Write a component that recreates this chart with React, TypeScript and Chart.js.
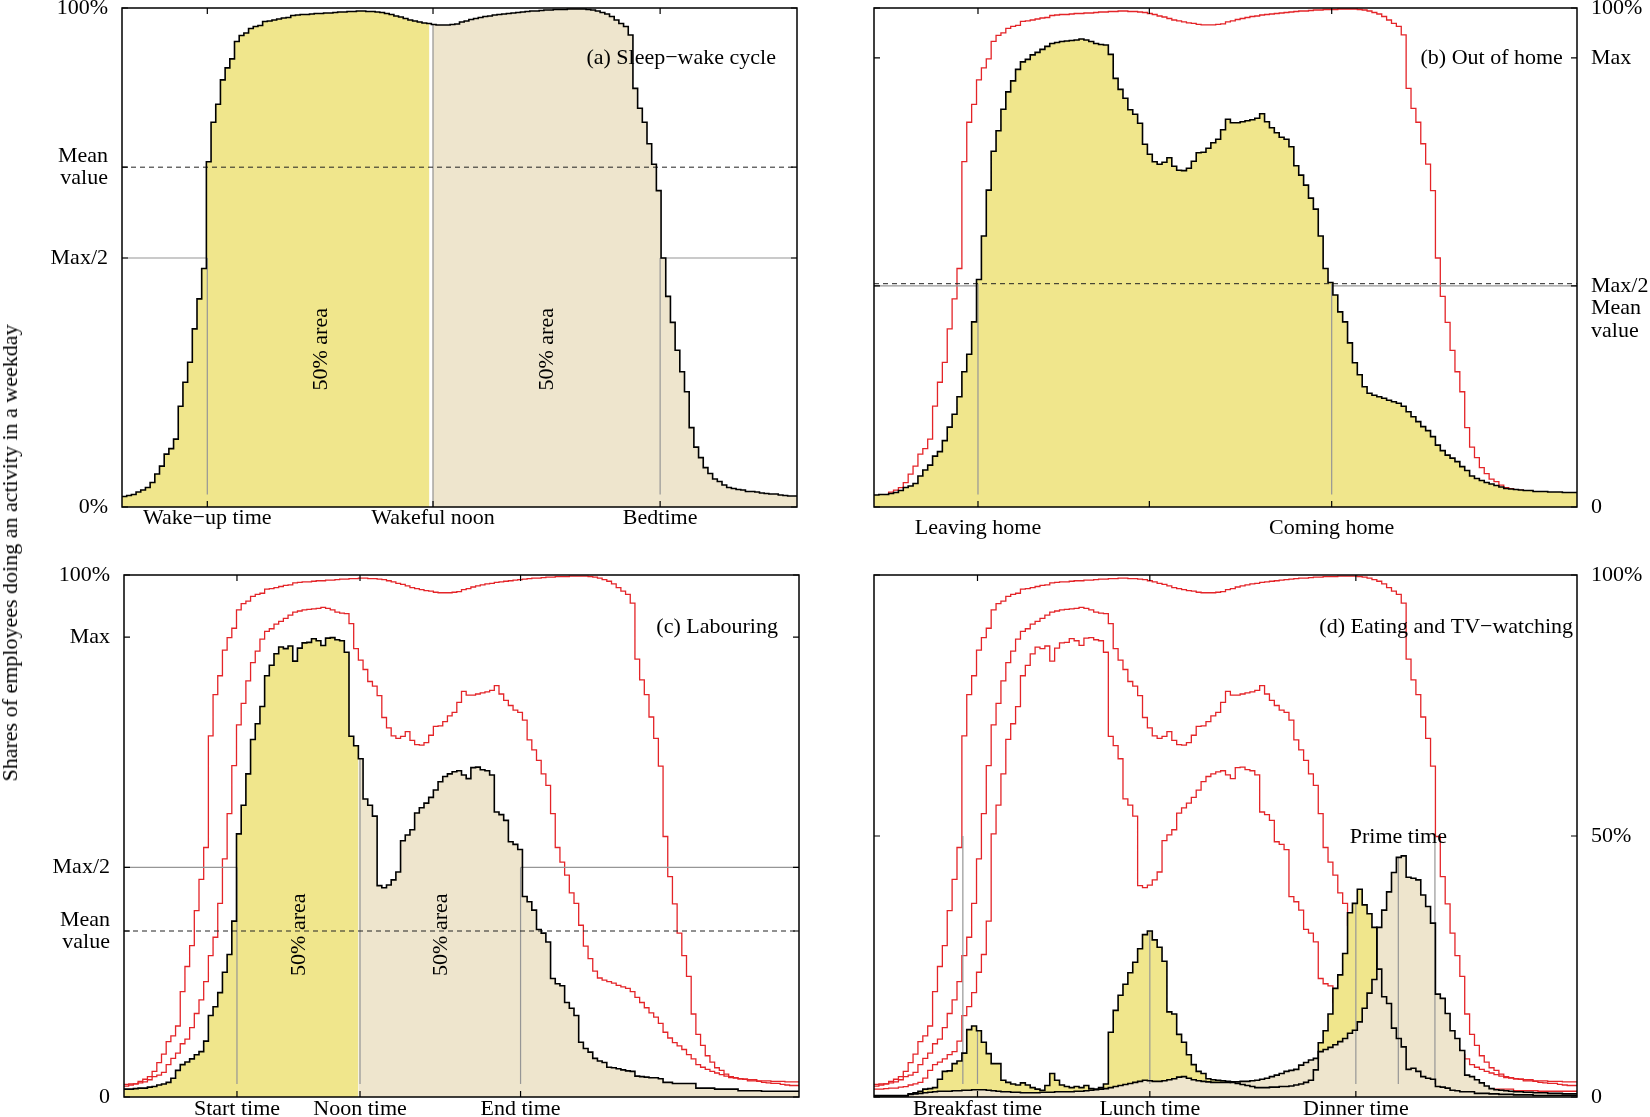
import { useEffect, useRef } from "react"
import { Chart, registerables } from "chart.js"

Chart.register(...registerables)

// shares in % per 10-minute slot (144 slots per day)
const awake = [
  2.1, 2.3, 2.5, 3.0, 3.4, 3.9, 4.9, 6.6, 8.2, 10.6,
  11.7, 13.6, 20.2, 25.0, 29.0, 35.7, 41.7, 47.8, 69.2, 77.1,
  80.7, 85.6, 88.0, 89.8, 93.3, 94.5, 95.0, 95.9, 96.3, 96.5,
  97.3, 97.4, 97.6, 97.8, 98.0, 98.1, 98.5, 98.6, 98.7, 98.7,
  98.8, 98.9, 98.9, 99.0, 99.0, 99.1, 99.2, 99.2, 99.3, 99.3,
  99.4, 99.4, 99.3, 99.3, 99.2, 99.1, 98.9, 98.7, 98.4, 98.2,
  97.9, 97.6, 97.4, 97.2, 97.0, 96.9, 96.7, 96.6, 96.6, 96.6,
  96.7, 96.8, 97.2, 97.4, 97.7, 97.9, 98.1, 98.3, 98.4, 98.6,
  98.7, 98.8, 98.9, 99.0, 99.1, 99.2, 99.3, 99.4, 99.4, 99.5,
  99.6, 99.6, 99.7, 99.7, 99.7, 99.8, 99.8, 99.8, 99.8, 99.7,
  99.6, 99.4, 99.1, 98.8, 98.3, 97.6, 96.9, 96.3, 94.6, 83.9,
  79.9, 77.1, 72.8, 68.7, 63.4, 49.9, 42.2, 37.0, 31.4, 27.1,
  23.1, 15.9, 12.0, 9.9, 7.9, 6.7, 5.6, 5.1, 4.4, 3.9,
  3.7, 3.5, 3.4, 3.1, 3.1, 3.0, 2.8, 2.7, 2.6, 2.6,
  2.4, 2.3, 2.2, 2.2,
]

const outOfHome = [
  2.4, 2.5, 2.5, 2.7, 2.9, 3.3, 3.9, 4.2, 4.7, 6.2,
  7.4, 8.4, 10.2, 11.1, 13.3, 16.0, 18.6, 22.1, 27.1, 30.6,
  37.1, 45.6, 54.3, 63.5, 71.3, 75.4, 79.7, 83.2, 85.4, 87.7,
  89.2, 89.7, 90.6, 91.1, 91.7, 92.3, 92.9, 93.1, 93.3, 93.4,
  93.5, 93.6, 93.8, 93.6, 93.3, 92.9, 92.7, 92.6, 90.7, 85.9,
  83.7, 81.9, 79.6, 78.7, 76.9, 72.7, 70.7, 69.2, 68.7, 69.1,
  70.0, 68.3, 67.5, 67.4, 67.9, 69.3, 71.0, 71.1, 71.9, 73.0,
  73.7, 75.6, 77.7, 77.0, 77.0, 77.2, 77.4, 77.6, 77.9, 78.8,
  77.2, 76.0, 75.0, 74.1, 73.7, 72.2, 68.4, 66.5, 64.5, 61.9,
  59.7, 54.3, 47.8, 45.0, 42.5, 39.1, 37.1, 32.9, 28.9, 26.5,
  24.1, 22.8, 22.4, 22.1, 21.8, 21.4, 21.1, 20.8, 20.2, 19.1,
  18.1, 17.1, 16.1, 15.3, 14.1, 12.4, 11.3, 10.4, 9.8, 9.1,
  8.1, 7.3, 6.2, 5.7, 5.3, 4.9, 4.6, 4.3, 4.0, 3.7,
  3.6, 3.5, 3.4, 3.3, 3.3, 3.1, 3.1, 3.1, 3.0, 3.0,
  3.0, 2.9, 2.9, 2.9,
]

const labouring = [
  1.5, 1.5, 1.6, 1.7, 1.7, 1.9, 2.0, 2.3, 2.5, 2.8,
  3.6, 5.1, 6.2, 6.7, 7.3, 8.1, 8.7, 10.7, 15.6, 17.3,
  20.0, 23.9, 27.3, 33.7, 50.4, 55.9, 61.9, 68.5, 71.5, 74.8,
  80.7, 82.7, 84.9, 86.2, 85.9, 86.4, 83.5, 86.0, 87.0, 87.1,
  87.8, 87.4, 86.5, 87.9, 88.0, 87.6, 87.4, 85.2, 69.1, 67.3,
  64.8, 57.1, 55.9, 53.8, 40.5, 40.1, 40.6, 41.6, 43.1, 49.1,
  50.2, 51.2, 54.4, 55.4, 56.3, 57.4, 58.8, 60.4, 61.4, 61.9,
  62.3, 62.5, 61.7, 61.0, 63.1, 63.2, 62.7, 62.5, 61.7, 54.6,
  54.1, 53.0, 48.9, 48.4, 47.4, 38.4, 37.4, 35.8, 32.1, 31.4,
  29.7, 22.7, 21.7, 21.3, 18.1, 17.0, 15.6, 10.5, 9.3, 8.6,
  7.4, 6.9, 6.6, 5.7, 5.6, 5.4, 5.2, 5.0, 4.9, 4.0,
  3.9, 3.8, 3.7, 3.7, 3.5, 2.8, 2.8, 2.6, 2.6, 2.6,
  2.6, 2.6, 1.7, 1.7, 1.7, 1.7, 1.5, 1.5, 1.5, 1.5,
  1.5, 1.2, 1.2, 1.2, 1.2, 1.2, 1.1, 1.1, 1.1, 1.1,
  1.1, 1.1, 1.1, 1.1,
]

const eating = [
  0.3, 0.3, 0.3, 0.3, 0.3, 0.3, 0.3, 0.6, 0.8, 1.1,
  1.5, 1.6, 1.8, 3.4, 4.9, 5.0, 6.4, 6.9, 8.4, 12.9,
  13.6, 12.7, 10.5, 8.3, 6.4, 6.4, 3.2, 2.8, 2.5, 2.3,
  2.7, 2.3, 1.8, 1.5, 1.3, 2.2, 4.5, 3.2, 2.3, 2.0,
  1.8, 2.0, 1.8, 2.2, 1.6, 1.5, 1.8, 2.5, 12.4, 16.6,
  19.5, 21.6, 23.8, 25.8, 28.4, 31.1, 31.8, 30.1, 28.7, 26.0,
  16.3, 15.9, 12.0, 10.5, 8.1, 6.2, 4.9, 4.5, 3.5, 3.3,
  3.2, 3.1, 3.0, 2.8, 2.6, 2.4, 2.2, 2.0, 1.8, 1.8,
  1.8, 1.9, 1.9, 2.0, 2.0, 2.1, 2.3, 2.5, 2.8, 3.2,
  5.2, 10.4, 12.7, 15.9, 20.8, 23.4, 27.5, 35.3, 37.1, 39.8,
  36.8, 35.1, 32.5, 24.5, 19.2, 17.9, 13.2, 11.2, 9.6, 5.3,
  5.5, 4.9, 3.9, 3.6, 3.4, 2.0, 1.9, 1.7, 1.3, 1.2,
  1.0, 1.0, 1.0, 0.7, 0.7, 0.7, 0.6, 0.6, 0.5, 0.5,
  0.5, 0.4, 0.4, 0.4, 0.4, 0.3, 0.3, 0.3, 0.3, 0.3,
  0.3, 0.3, 0.3, 0.3,
]

const tvWatching = [
  0.2, 0.2, 0.2, 0.2, 0.2, 0.2, 0.2, 0.5, 0.6, 0.7,
  0.8, 0.9, 1.0, 1.1, 1.1, 1.1, 1.2, 1.2, 1.3, 1.3,
  1.4, 1.4, 1.4, 1.3, 1.2, 1.1, 1.0, 1.0, 0.9, 0.9,
  0.8, 0.8, 0.8, 0.8, 0.9, 0.9, 0.9, 1.0, 1.0, 1.0,
  1.0, 1.1, 1.1, 1.2, 1.3, 1.4, 1.5, 1.6, 1.8, 2.0,
  2.2, 2.4, 2.6, 2.8, 3.0, 3.2, 3.1, 3.0, 3.0, 3.1,
  3.3, 3.5, 3.8, 3.9, 3.6, 3.3, 3.1, 3.0, 2.9, 2.8,
  2.8, 2.8, 2.8, 2.9, 2.9, 3.0, 3.0, 3.1, 3.2, 3.4,
  3.6, 3.9, 4.2, 4.5, 4.9, 5.1, 5.3, 6.1, 6.6, 7.1,
  7.4, 8.7, 9.1, 9.5, 10.0, 10.6, 11.2, 12.2, 12.8, 14.4,
  17.0, 19.9, 22.5, 32.5, 35.8, 39.3, 43.0, 45.9, 46.2, 42.1,
  41.9, 41.6, 38.7, 36.5, 33.3, 19.7, 18.9, 16.0, 12.7, 11.2,
  8.9, 4.2, 3.9, 3.3, 2.7, 2.1, 1.6, 1.4, 1.3, 1.2,
  1.1, 1.0, 1.0, 0.9, 0.9, 0.8, 0.8, 0.8, 0.7, 0.7,
  0.7, 0.6, 0.6, 0.6,
]

// event times (in slots) and reference levels (in %)
const sleepTimes = [18.2, 66.35, 114.8]
const sleepTimeLabels = ["Wake−up time", "Wakeful noon", "Bedtime"]
const sleepLevels = [0, 49.9, 68.1, 100]
const sleepLevelLabels = ["0%", "Max/2", ["Mean", "value"], "100%"]
const sleepMean = 68.1
const sleepHalfMax = 49.9

const homeTimes = [21.3, 56.4, 93.75]
const homeTimeLabels = ["Leaving home", "", "Coming home"]
const homeLevels = [0, 44.3, 90, 100]
const homeLevelLabels = ["0", ["", "", "Max/2", "Mean", "value"], "Max", "100%"]
const homeMean = 44.75
const homeHalfMax = 44.3

const workTimes = [24.1, 50.35, 84.6]
const workTimeLabels = ["Start time", "Noon time", "End time"]
const workLevels = [0, 31.8, 44.0, 88.1, 100]
const workLevelLabels = ["0", ["Mean", "value"], "Max/2", "Max", "100%"]
const workMean = 31.8
const workHalfMax = 44.0

const mealTimes = [21.2, 56.5, 98.7]
const mealTimeLabels = ["Breakfast time", "Lunch time", "Dinner time"]
const primeTime = 107.4
const wakeHalf = [18.2, 114.9]
const mealLevels = [0, 50, 100]
const mealLevelLabels = ["0", "50%", "100%"]

const FONT = '"Liberation Serif", "Times New Roman", serif'
const YELLOW = "rgb(240, 230, 140)"
const BEIGE = "rgb(238, 229, 205)"
const RED = "rgb(228, 36, 40)"
const GREY = "rgb(150, 150, 150)"
const BASE = 2.5

type Series = { values: number[]; color: string; width: number; fill?: string; splitAt?: number }
type VLine = { x: number; top: number; base?: number; color?: string; width?: number }
type Note = { text: string; x: number; y: number; align?: CanvasTextAlign; rotate?: boolean }

interface PanelSpec {
  box: [number, number, number, number]
  area: [number, number, number, number]
  yPos: "left" | "right"
  xLabelPad: number
  xTicks: number[]
  xLabels: string[]
  yTicks: number[]
  yLabels: (string | string[])[]
  series: Series[]
  mean?: number
  halfMax?: { level: number; from: number; to: number }
  vlines: VLine[]
  notes: Note[]
}

const at = (values: number[], x: number) => values[Math.floor(x)]

const panels: PanelSpec[] = [
  {
    box: [0, 0, 825, 545],
    area: [122, 8, 797, 507],
    yPos: "left",
    xLabelPad: 0,
    xTicks: sleepTimes,
    xLabels: sleepTimeLabels,
    yTicks: sleepLevels,
    yLabels: sleepLevelLabels,
    series: [{ values: awake, color: "#000", width: 1.6, fill: YELLOW, splitAt: 66 }],
    mean: sleepMean,
    halfMax: { level: sleepHalfMax, from: sleepTimes[0], to: sleepTimes[2] },
    vlines: [
      { x: sleepTimes[1] - 0.45, top: at(awake, sleepTimes[1]), base: 0, color: "#fff", width: 3.5 },
      { x: sleepTimes[0], top: sleepHalfMax },
      { x: sleepTimes[1], top: at(awake, sleepTimes[1]), base: 0 },
      { x: sleepTimes[2], top: sleepHalfMax },
    ],
    notes: [
      { text: "(a) Sleep−wake cycle", x: 139.5, y: 90, align: "right" },
      { text: "50% area", x: 42.4, y: 31.6, rotate: true },
      { text: "50% area", x: 90.7, y: 31.6, rotate: true },
    ],
  },
  {
    box: [830, 0, 820, 545],
    area: [874, 8, 1577, 507],
    yPos: "right",
    xLabelPad: 10,
    xTicks: homeTimes,
    xLabels: homeTimeLabels,
    yTicks: homeLevels,
    yLabels: homeLevelLabels,
    series: [
      { values: outOfHome, color: "#000", width: 1.6, fill: YELLOW },
      { values: awake, color: RED, width: 1.3 },
    ],
    mean: homeMean,
    halfMax: { level: homeHalfMax, from: homeTimes[0], to: homeTimes[2] },
    vlines: [
      { x: homeTimes[0], top: homeMean },
      { x: homeTimes[2], top: homeMean },
    ],
    notes: [{ text: "(b) Out of home", x: 141.1, y: 90, align: "right" }],
  },
  {
    box: [0, 545, 825, 572],
    area: [124, 575, 799, 1097],
    yPos: "left",
    xLabelPad: 1,
    xTicks: workTimes,
    xLabels: workTimeLabels,
    yTicks: workLevels,
    yLabels: workLevelLabels,
    series: [
      { values: labouring, color: "#000", width: 1.6, fill: YELLOW, splitAt: 50 },
      { values: outOfHome, color: RED, width: 1.3 },
      { values: awake, color: RED, width: 1.3 },
    ],
    mean: workMean,
    halfMax: { level: workHalfMax, from: workTimes[0], to: workTimes[2] },
    vlines: [
      { x: workTimes[0], top: workHalfMax },
      { x: workTimes[1], top: at(labouring, workTimes[1]) },
      { x: workTimes[2], top: workHalfMax },
    ],
    notes: [
      { text: "(c) Labouring", x: 139.5, y: 90, align: "right" },
      { text: "50% area", x: 37.3, y: 31.1, rotate: true },
      { text: "50% area", x: 67.6, y: 31.1, rotate: true },
    ],
  },
  {
    box: [830, 545, 820, 572],
    area: [874, 575, 1577, 1097],
    yPos: "right",
    xLabelPad: 1,
    xTicks: mealTimes,
    xLabels: mealTimeLabels,
    yTicks: mealLevels,
    yLabels: mealLevelLabels,
    series: [
      { values: tvWatching, color: "#000", width: 1.6, fill: BEIGE },
      { values: eating, color: "#000", width: 1.6, fill: YELLOW },
      { values: labouring, color: RED, width: 1.3 },
      { values: outOfHome, color: RED, width: 1.3 },
      { values: awake, color: RED, width: 1.3 },
    ],
    vlines: [
      { x: wakeHalf[0], top: 50 },
      { x: mealTimes[0], top: at(eating, mealTimes[0]) },
      { x: mealTimes[1], top: at(eating, mealTimes[1]) },
      { x: mealTimes[2], top: at(eating, mealTimes[2]) },
      { x: primeTime, top: at(tvWatching, primeTime) },
      { x: wakeHalf[1], top: 50 },
    ],
    notes: [
      { text: "(d) Eating and TV−watching", x: 143.2, y: 90, align: "right" },
      { text: "Prime time", x: primeTime, y: 49.8, align: "center" },
    ],
  },
]

function stepPoints(values: number[]) {
  const pts = values.map((y, i) => ({ x: i, y }))
  pts.push({ x: values.length, y: values[values.length - 1] })
  return pts
}

// reference lines go over the fills but under the curves
function drawGuides(chart: Chart, spec: PanelSpec) {
  const { ctx, chartArea: a } = chart
  const x = chart.scales.x
  const y = chart.scales.y
  ctx.save()
  ctx.beginPath()
  ctx.rect(a.left, a.top, a.right - a.left, a.bottom - a.top)
  ctx.clip()

  for (const v of spec.vlines) {
    const px = x.getPixelForValue(v.x)
    ctx.strokeStyle = v.color ?? GREY
    ctx.lineWidth = v.width ?? 1.2
    ctx.beginPath()
    ctx.moveTo(px, y.getPixelForValue(v.base ?? BASE))
    ctx.lineTo(px, y.getPixelForValue(v.top))
    ctx.stroke()
  }

  if (spec.halfMax) {
    const py = y.getPixelForValue(spec.halfMax.level)
    ctx.strokeStyle = GREY
    ctx.lineWidth = 1.2
    ctx.beginPath()
    ctx.moveTo(a.left, py)
    ctx.lineTo(x.getPixelForValue(spec.halfMax.from), py)
    ctx.moveTo(x.getPixelForValue(spec.halfMax.to), py)
    ctx.lineTo(a.right, py)
    ctx.stroke()
  }

  if (spec.mean !== undefined) {
    const py = y.getPixelForValue(spec.mean)
    ctx.strokeStyle = "#222"
    ctx.lineWidth = 1
    ctx.setLineDash([5, 4])
    ctx.beginPath()
    ctx.moveTo(a.left, py)
    ctx.lineTo(a.right, py)
    ctx.stroke()
    ctx.setLineDash([])
  }
  ctx.restore()
}

function decorations(spec: PanelSpec, guideIndex: number) {
  return {
    id: "decorations",
    afterDatasetDraw(chart: Chart, args: { index: number }) {
      if (args.index === guideIndex) drawGuides(chart, spec)
    },
    afterDatasetsDraw(chart: Chart) {
      const { ctx, chartArea: a } = chart
      const x = chart.scales.x
      const y = chart.scales.y
      ctx.save()
      ctx.strokeStyle = "#000"
      ctx.lineWidth = 1.5
      ctx.strokeRect(a.left, a.top, a.right - a.left, a.bottom - a.top)

      ctx.lineWidth = 1.2
      ctx.beginPath()
      for (const t of spec.xTicks) {
        const px = x.getPixelForValue(t)
        ctx.moveTo(px, a.bottom)
        ctx.lineTo(px, a.bottom - 6)
        ctx.moveTo(px, a.top)
        ctx.lineTo(px, a.top + 6)
      }
      for (const t of spec.yTicks) {
        const py = y.getPixelForValue(t)
        ctx.moveTo(a.left, py)
        ctx.lineTo(a.left + 6, py)
        ctx.moveTo(a.right, py)
        ctx.lineTo(a.right - 6, py)
      }
      ctx.stroke()

      ctx.fillStyle = "#000"
      ctx.font = `22px ${FONT}`
      ctx.textBaseline = "middle"
      for (const n of spec.notes) {
        const px = x.getPixelForValue(n.x)
        const py = y.getPixelForValue(n.y)
        ctx.save()
        ctx.translate(px, py)
        if (n.rotate) ctx.rotate(-Math.PI / 2)
        ctx.textAlign = n.rotate ? "center" : n.align ?? "center"
        ctx.fillText(n.text, 0, 0)
        ctx.restore()
      }
      ctx.restore()
    },
  }
}

function Panel({ spec }: { spec: PanelSpec }) {
  const canvasRef = useRef<HTMLCanvasElement>(null)

  useEffect(() => {
    if (!canvasRef.current) return
    const [bl, bt, bw, bh] = spec.box
    const [al, at2, ar, ab] = spec.area
    const yWidth = spec.yPos === "left" ? al - bl : bl + bw - ar
    const xHeight = bt + bh - ab
    const padding = {
      left: spec.yPos === "left" ? 0 : al - bl,
      right: spec.yPos === "left" ? bl + bw - ar : 0,
      top: at2 - bt,
      bottom: 0,
    }
    const font = { family: FONT, size: 22, lineHeight: 1.02 }

    // drawing order: red curves first, then fills, then the black curves
    const datasets: any[] = []
    let guideIndex = -1
    let fillCount = 0
    spec.series.forEach((s) => {
      if (s.fill) {
        const order = 3 + fillCount++
        datasets.push({
          data: stepPoints(s.values),
          stepped: true,
          borderWidth: 0,
          borderColor: "transparent",
          pointRadius: 0,
          fill: "origin",
          backgroundColor: s.fill,
          order,
          segment:
            s.splitAt !== undefined
              ? { backgroundColor: (ctx: any) => (ctx.p0.parsed.x < s.splitAt! ? YELLOW : BEIGE) }
              : undefined,
        })
        if (order === 3) guideIndex = datasets.length - 1
      }
    })
    spec.series.forEach((s) => {
      datasets.push({
        data: stepPoints(s.values),
        stepped: true,
        borderColor: s.color,
        borderWidth: s.width,
        pointRadius: 0,
        fill: false,
        order: s.color === RED ? 10 : 1,
      })
    })

    const chart = new Chart(canvasRef.current, {
      type: "line",
      data: { datasets },
      options: {
        animation: false,
        responsive: false,
        events: [],
        layout: { padding },
        scales: {
          x: {
            type: "linear",
            min: 0,
            max: 144,
            grid: { display: false, drawTicks: false },
            border: { display: false },
            afterBuildTicks: (scale: any) => {
              scale.ticks = spec.xTicks.map((value) => ({ value }))
            },
            afterFit: (scale: any) => {
              scale.height = xHeight
              scale.paddingLeft = 0
              scale.paddingRight = 0
            },
            ticks: {
              autoSkip: false,
              maxRotation: 0,
              minRotation: 0,
              padding: spec.xLabelPad,
              color: "#000",
              font,
              callback: (_v: any, i: number) => spec.xLabels[i],
            },
          },
          y: {
            type: "linear",
            position: spec.yPos,
            min: 0,
            max: 100,
            grid: { display: false, drawTicks: false },
            border: { display: false },
            afterBuildTicks: (scale: any) => {
              scale.ticks = spec.yTicks.map((value) => ({ value }))
            },
            afterFit: (scale: any) => {
              scale.width = yWidth
              scale.paddingTop = 0
              scale.paddingBottom = 0
            },
            ticks: {
              autoSkip: false,
              padding: 14,
              color: "#000",
              font,
              callback: (_v: any, i: number) => spec.yLabels[i],
            },
          },
        },
        plugins: {
          legend: { display: false },
          tooltip: { enabled: false },
          filler: { drawTime: "beforeDatasetDraw" },
        },
      } as any,
      plugins: [decorations(spec, guideIndex) as any],
    })

    return () => chart.destroy()
  }, [spec])

  const [left, top, width, height] = spec.box
  return (
    <canvas
      ref={canvasRef}
      width={width}
      height={height}
      style={{ position: "absolute", left, top, width, height }}
    />
  )
}

export default function App() {
  return (
    <div
      style={{
        position: "fixed",
        left: 0,
        top: 0,
        width: 1650,
        height: 1117,
        overflow: "hidden",
        background: "#fff",
      }}
    >
      {panels.map((p, i) => (
        <Panel key={i} spec={p} />
      ))}
      <div
        style={{
          position: "absolute",
          left: 10,
          top: 553,
          transform: "translate(-50%, -50%) rotate(-90deg)",
          whiteSpace: "nowrap",
          fontFamily: FONT,
          fontSize: 22,
          color: "#000",
        }}
      >
        Shares of employees doing an activity in a weekday
      </div>
    </div>
  )
}
